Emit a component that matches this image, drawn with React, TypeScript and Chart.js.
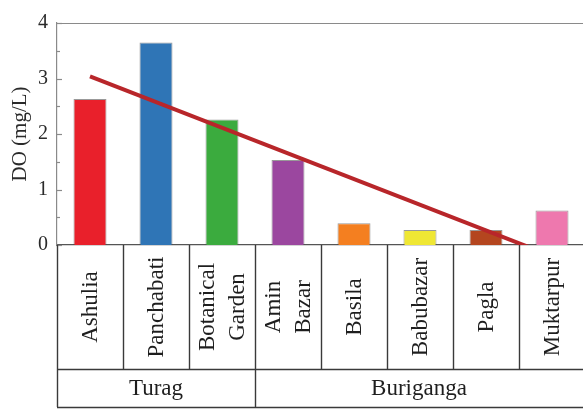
import React, { useEffect, useRef } from "react";
import { Chart, registerables } from "chart.js";

Chart.register(...registerables);

const categories: string[][] = [
  ["Ashulia"],
  ["Panchabati"],
  ["Botanical", "Garden"],
  ["Amin", "Bazar"],
  ["Basila"],
  ["Babubazar"],
  ["Pagla"],
  ["Muktarpur"],
];
const doValues = [2.63, 3.65, 2.26, 1.53, 0.39, 0.27, 0.27, 0.62];
const barColors = [
  "#e9202b",
  "#2f75b6",
  "#3bab3e",
  "#9b479f",
  "#f47f20",
  "#efe734",
  "#b4461f",
  "#ee78ae",
];
const trendValues: (number | null)[] = [3.04, null, null, null, null, null, null, -0.2];
const groups = ["Turag", "Buriganga"];
const groupSizes = [3, 5];
const yMin = 0;
const yMax = 4;
const yStep = 1;
const yTitle = "DO (mg/L)";

const SERIF = "'Liberation Serif', 'Times New Roman', serif";

const tablePlugin = {
  id: "tableGrid",
  afterDraw(chart: any) {
    const { ctx, chartArea } = chart;
    const xs = chart.scales.x;
    const ys = chart.scales.y;
    const n = categories.length;
    const step = xs.getPixelForValue(1) - xs.getPixelForValue(0);
    const edge = (i: number) => xs.getPixelForValue(i) - step / 2;
    const top = chartArea.bottom;
    const mid = top + 124;
    const bot = top + 162;
    ctx.save();
    // top frame
    ctx.strokeStyle = "#8a8a8a";
    ctx.lineWidth = 1.2;
    ctx.beginPath();
    ctx.moveTo(chartArea.left, chartArea.top + 0.5);
    ctx.lineTo(chartArea.right, chartArea.top + 0.5);
    ctx.stroke();
    // y tick marks (major + minor)
    for (let v = yMin; v <= yMax + 1e-9; v += yStep / 2) {
      const py = Math.round(ys.getPixelForValue(v)) + 0.5;
      const major = Math.abs(v - Math.round(v)) < 1e-9;
      ctx.beginPath();
      ctx.moveTo(chartArea.left - 1, py);
      ctx.lineTo(chartArea.left + (major ? 5 : 3), py);
      ctx.stroke();
    }
    // table lines
    ctx.strokeStyle = "#3a3a3a";
    ctx.lineWidth = 1.4;
    ctx.beginPath();
    for (let i = 0; i <= n; i++) {
      const ex = Math.round(edge(i)) + 0.5;
      ctx.moveTo(ex, top);
      ctx.lineTo(ex, mid);
    }
    ctx.moveTo(chartArea.left, mid + 0.5);
    ctx.lineTo(chartArea.right, mid + 0.5);
    let acc = 0;
    for (let g = 0; g <= groups.length; g++) {
      const ex = Math.round(edge(acc)) + 0.5;
      ctx.moveTo(ex, mid);
      ctx.lineTo(ex, bot);
      if (g < groups.length) acc += groupSizes[g];
    }
    ctx.moveTo(chartArea.left, bot + 0.5);
    ctx.lineTo(chartArea.right, bot + 0.5);
    ctx.stroke();
    // category labels (rotated)
    ctx.fillStyle = "#1e1e1e";
    ctx.font = `23px ${SERIF}`;
    ctx.textAlign = "center";
    ctx.textBaseline = "middle";
    const lineGap = 30;
    for (let i = 0; i < n; i++) {
      const cx = xs.getPixelForValue(i);
      const cy = (top + mid) / 2;
      const lines = categories[i];
      ctx.save();
      ctx.translate(cx, cy);
      ctx.rotate(-Math.PI / 2);
      lines.forEach((t, k) => {
        const off = (k - (lines.length - 1) / 2) * lineGap;
        ctx.fillText(t, 0, off + 1);
      });
      ctx.restore();
    }
    // group labels
    acc = 0;
    groups.forEach((g, gi) => {
      const l = edge(acc);
      const r = Math.min(edge(acc + groupSizes[gi]), 583);
      ctx.fillText(g, (l + r) / 2, (mid + bot) / 2 + 1);
      acc += groupSizes[gi];
    });
    ctx.restore();
  },
};

export default function App() {
  const ref = useRef<HTMLCanvasElement | null>(null);
  useEffect(() => {
    if (!ref.current) return;
    document.body.style.margin = "0";
    const chart = new Chart(ref.current, {
      type: "bar",
      data: {
        labels: categories.map((c) => c.join(" ")),
        datasets: [
          {
            type: "line",
            data: trendValues,
            borderColor: "#b8262a",
            borderWidth: 4,
            pointRadius: 0,
            spanGaps: true,
            order: 0,
          } as any,
          {
            type: "bar",
            data: doValues,
            backgroundColor: barColors,
            borderColor: "rgba(70,70,70,0.55)",
            borderWidth: 1,
            barPercentage: 0.5,
            categoryPercentage: 1,
            order: 1,
          },
        ],
      },
      options: {
        animation: false,
        responsive: false,
        devicePixelRatio: 1,
        layout: { padding: { top: 23, right: 15, left: 0, bottom: 0 } },
        plugins: { legend: { display: false }, tooltip: { enabled: false } },
        scales: {
          x: {
            grid: { display: false },
            border: { display: true, color: "#555", width: 1.2 },
            ticks: { display: false },
            afterFit: (s: any) => {
              s.height = 164;
            },
          },
          y: {
            min: yMin,
            max: yMax,
            grid: { display: false, drawTicks: false },
            border: { display: true, color: "#8a8a8a", width: 1.2 },
            ticks: {
              stepSize: yStep,
              padding: 9,
              color: "#2a2a2a",
              font: { family: SERIF, size: 20 },
            },
            title: {
              display: true,
              text: yTitle,
              color: "#2a2a2a",
              font: { family: SERIF, size: 21 },
              padding: { top: 8, bottom: 0 },
            },
            afterFit: (s: any) => {
              s.width = 57;
            },
          },
        },
      },
      plugins: [tablePlugin],
    });
    return () => chart.destroy();
  }, []);
  return (
    <div
      style={{
        position: "absolute",
        left: 0,
        top: 0,
        width: 583,
        height: 409,
        overflow: "hidden",
        background: "#ffffff",
      }}
    >
      <canvas ref={ref} width={600} height={409} style={{ width: 600, height: 409 }} />
    </div>
  );
}
